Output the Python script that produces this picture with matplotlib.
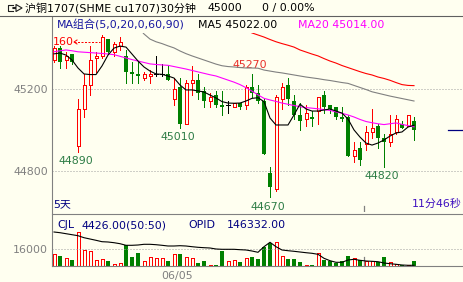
import numpy as np
import matplotlib
matplotlib.use('Agg')
import matplotlib.pyplot as plt
from matplotlib.patches import Rectangle
from matplotlib.lines import Line2D

plt.rcParams['font.family'] = ['DejaVu Sans', 'Noto Sans CJK SC']

# ---------------- data ----------------
title = '沪铜1707(SHME cu1707)30分钟'
last_price_text = '45000'
change_text = '0 / 0.00%'
ma_header = 'MA组合(5,0,20,0,60,90)'
ma5_text = 'MA5 45022.00'
ma20_text = 'MA20 45014.00'
vol_header = ['CJL', '4426.00(50:50)', 'OPID', '146332.00']
period_text = '5天'
timer_text = '11分46秒'
date_labels = ['06/05']
date_label_pos = [20.5]
day_break_pos = [51.67]
price_ticks = [45200, 44800]
vol_ticks = [16000]
last_price = 45000

opens  = [45340, 45400, 45340, 45370, 44920, 45100, 45220, 45350, 45360, 45440,
          45380, 45410, 45360, 45280, 45270, 45250, 45260, 45270, 45270, 45270,
          45150, 45210, 45030, 45230, 45240, 45190, 45140, 45170, 45120, 45120,
          45110, 45130, 45120, 45210, 45180, 45140, 44790, 44710, 45150, 45220,
          45140, 45070, 45050, 45060, 45090, 45170, 45120, 45110, 45060, 45060,
          44870, 44910, 44930, 44990, 45020, 44960, 44940, 44990, 45030, 45020,
          45040]
highs  = [45410, 45410, 45380, 45370, 45150, 45270, 45410, 45380, 45460, 45440,
          45430, 45450, 45390, 45330, 45330, 45280, 45290, 45360, 45320, 45310,
          45250, 45250, 45240, 45310, 45270, 45210, 45180, 45190, 45190, 45140,
          45130, 45130, 45220, 45270, 45220, 45150, 44820, 45170, 45230, 45250,
          45170, 45130, 45120, 45090, 45160, 45190, 45120, 45110, 45110, 45070,
          44940, 44940, 45020, 45100, 45030, 44980, 45070, 45070, 45040, 45070,
          45060]
lows   = [45330, 45300, 45300, 45320, 44890, 45060, 45170, 45280, 45350, 45370,
          45360, 45390, 45230, 45230, 45230, 45240, 45230, 45260, 45260, 45240,
          45120, 45010, 45030, 45170, 45150, 45110, 45110, 45110, 45070, 45080,
          45110, 45100, 45100, 45160, 45130, 44880, 44670, 44700, 45100, 45120,
          45050, 45000, 45020, 45020, 45030, 45080, 45080, 45050, 45040, 44870,
          44840, 44830, 44900, 44960, 44910, 44820, 44920, 44980, 45010, 45020,
          44950]
closes = [45400, 45330, 45360, 45330, 45100, 45220, 45340, 45360, 45450, 45380,
          45420, 45430, 45280, 45270, 45260, 45270, 45270, 45270, 45270, 45240,
          45200, 45030, 45230, 45240, 45180, 45140, 45160, 45120, 45110, 45120,
          45130, 45110, 45210, 45180, 45140, 44880, 44720, 45160, 45210, 45150,
          45070, 45040, 45080, 45050, 45160, 45110, 45100, 45060, 45050, 44870,
          44900, 44850, 44990, 45010, 44960, 44940, 44980, 45050, 45010, 45070,
          45000]

ma5  = [45370, 45374, 45364, 45340, 45301, 45272, 45269, 45269, 45311, 45364,
        45398, 45408, 45403, 45369, 45335, 45306, 45286, 45272, 45270, 45262,
        45252, 45218, 45194, 45194, 45189, 45184, 45169, 45155, 45137, 45130,
        45129, 45130, 45140, 45153, 45156, 45137, 45057, 45023, 45023, 45023,
        45072, 45125, 45101, 45091, 45091, 45096, 45101, 45091, 45081, 45052,
        44999, 44964, 44935, 44925, 44935, 44950, 44969, 44984, 44989, 45013,
        45022]
ma20 = [45380, 45385, 45389, 45385, 45380, 45378, 45376, 45374, 45372, 45369,
        45366, 45358, 45350, 45342, 45335, 45328, 45321, 45318, 45316, 45314,
        45308, 45302, 45296, 45289, 45282, 45275, 45268, 45262, 45252, 45242,
        45232, 45220, 45205, 45188, 45170, 45153, 45145, 45138, 45130, 45124,
        45118, 45112, 45108, 45105, 45102, 45098, 45094, 45087, 45080, 45072,
        45062, 45050, 45040, 45034, 45029, 45025, 45029, 45033, 45026, 45020,
        45014]
ma60 = [None] * 12 + [
        45560, 45535, 45501, 45467, 45442, 45429, 45420, 45409,
        45399, 45384, 45371, 45360, 45350, 45340, 45330, 45320, 45312, 45308,
        45306, 45303, 45301, 45301, 45300, 45291, 45286, 45281, 45277, 45272,
        45267, 45262, 45257, 45253, 45249, 45244, 45240, 45235, 45230, 45226,
        45216, 45206, 45196, 45185, 45178, 45171, 45164, 45158, 45152, 45146,
        45140]
ma90 = [None] * 32 + [
        45486, 45472, 45462, 45452, 45440, 45429, 45420, 45412,
        45403, 45389, 45379, 45369, 45360, 45347, 45335, 45325, 45313, 45303,
        45293, 45283, 45274, 45267, 45257, 45250, 45241, 45230, 45220, 45216,
        45215]

volume = [11500, 9580, 7350, 5750, 32260, 15330, 14370, 5750, 6390, 4790,
          1920, 3190, 19800, 8620, 12450, 4790, 8300, 7350, 7350, 4790,
          11500, 11500, 8300, 7350, 3190, 4790, 960, 960, 14700, 4790,
          5750, 3830, 7350, 8620, 6700, 18530, 22360, 23000, 9580, 6700,
          6700, 3830, 960, 960, 12140, 5750, 4790, 3190, 4790, 9580,
          7980, 5750, 4790, 4790, 3830, 8620, 3830, 1600, 640, 960,
          4426]
opid = [172972, 172412, 171612, 170812, 170012, 168412, 167372, 166332, 165212, 164972,
        164412, 163612, 162332, 162332, 162572, 163132, 163132, 162812, 162332, 161772,
        161772, 162012, 161772, 161212, 160732, 160412, 160172, 159372, 159132, 159132,
        159132, 158812, 158572, 157772, 156732, 161212, 164732, 161212, 158572, 158012,
        157532, 156972, 156412, 155932, 155132, 151932, 150012, 148732, 148732, 150572,
        151132, 150332, 149772, 149532, 149212, 148172, 147612, 147132, 146572, 146332,
        146332]

extreme_lows = [(4, 44890), (21, 45010), (36, 44670), (55, 44820)]
extreme_high = (33, 45270)
top_label_text = '160'

# ---------------- style ----------------
BG = '#FFFFF0'
RED = '#FF0000'
GREEN = '#008000'
GRAY = '#808080'
NAVY = '#000080'
FS = 7.9

W, H = 463, 282
fig = plt.figure(figsize=(W / 100, H / 100), dpi=100)
fig.patch.set_facecolor(BG)


def fx(px):
    return px / W


def fy(py):
    return 1 - py / H


def price_at(py):
    return 45200 - (py - 88.7) * 400 / 82


n = len(closes)
idx = np.arange(n)
X0, DX = 54, 6
xlim = ((52 - X0) / DX, (463 - X0) / DX)

MAIN_TOP, MAIN_BOT = 33, 212
VOL_TOP, VOL_BOT = 216, 266

ax = fig.add_axes([fx(52), fy(MAIN_BOT), fx(463 - 52), (MAIN_BOT - MAIN_TOP) / H])
ax.set_facecolor(BG)
ax.set_xlim(*xlim)
ax.set_ylim(price_at(MAIN_BOT), price_at(MAIN_TOP))
for s in ax.spines.values():
    s.set_visible(False)
ax.set_xticks([])
ax.set_yticks(price_ticks)
ax.set_yticklabels([str(t) for t in price_ticks], color=GRAY, fontsize=FS)
ax.tick_params(axis='y', length=0, pad=2.9)
ax.grid(axis='y', color='#A0A0A0', linestyle=(0, (1, 2)), linewidth=0.72)

body_w = 4 / DX
hollow_w = 3 / DX
LW = 0.72
for i in range(n):
    o, h, l, c = opens[i], highs[i], lows[i], closes[i]
    if c > o:
        ax.add_line(Line2D([i, i], [l, o], color=RED, lw=LW, antialiased=False))
        ax.add_line(Line2D([i, i], [c, h], color=RED, lw=LW, antialiased=False))
        ax.add_patch(Rectangle((i - hollow_w / 2, o), hollow_w, c - o, facecolor=BG,
                               edgecolor=RED, lw=LW, antialiased=False, zorder=3))
    elif c < o:
        ax.add_line(Line2D([i, i], [l, h], color=GREEN, lw=LW, antialiased=False))
        ax.add_patch(Rectangle((i - body_w / 2, c), body_w, o - c, facecolor=GREEN,
                               edgecolor='none', antialiased=False, zorder=3))
    else:
        ax.add_line(Line2D([i, i], [l, h], color='black', lw=LW, antialiased=False))
        ax.add_line(Line2D([i - body_w / 2, i + body_w / 2], [o, o], color='black',
                           lw=LW, antialiased=False))


def ma_line(vals, color):
    y = np.array([np.nan if v is None else v for v in vals], dtype=float)
    ax.plot(idx, y, color=color, lw=0.8, zorder=4)


ma_line(ma90, '#FF0000')
ma_line(ma60, '#808080')
ma_line(ma20, '#FF00FF')
ma_line(ma5, '#000000')

# current price marker at right
ax.plot([(448 - X0) / DX, xlim[1]], [last_price, last_price], color=NAVY, lw=0.9)

# extreme labels
LOWC = '#2E7D46'
for i, v in extreme_lows:
    ax.annotate(str(v), (i, v), xytext=(-1.4, -6.6), textcoords='offset points',
                ha='center', va='center', fontsize=FS, color=LOWC)
i, v = extreme_high
ax.annotate(str(v), (i, v), xytext=(-1.4, 6.7), textcoords='offset points',
            ha='center', va='center', fontsize=FS, color='#E8302A')

# top-left high label with arrow
fig.text(fx(53), fy(42), top_label_text, color=RED, fontsize=FS, va='center', ha='left')
fig.add_artist(Line2D([fx(74), fx(100)], [fy(42), fy(42)], color=RED, lw=0.72,
                      linestyle=(0, (2, 1.5))))
fig.add_artist(Line2D([fx(77), fx(74), fx(77)], [fy(40), fy(42), fy(44)],
                      color=RED, lw=0.72))

# day break ticks
for p in day_break_pos:
    ax.axvline(p, ymin=0, ymax=6 / (MAIN_BOT - MAIN_TOP), color=GRAY, lw=0.9)

# ---------------- volume panel ----------------
vax = fig.add_axes([fx(52), fy(VOL_BOT), fx(463 - 52), (VOL_BOT - VOL_TOP) / H])
vax.set_facecolor(BG)
vax.set_xlim(*xlim)
vpx = 16000 / (VOL_BOT - 249.3)
vax.set_ylim(0, vpx * (VOL_BOT - VOL_TOP))
for s in vax.spines.values():
    s.set_visible(False)
vax.set_yticks(vol_ticks)
vax.set_yticklabels([str(t) for t in vol_ticks], color=GRAY, fontsize=FS)
vax.tick_params(axis='y', length=0, pad=2.9)
vax.grid(axis='y', color='#A0A0A0', linestyle=(0, (1, 2)), linewidth=0.72)
vax.set_xticks(date_label_pos)
vax.set_xticklabels(date_labels, color=GRAY, fontsize=FS)
vax.tick_params(axis='x', length=0, pad=3.5)
for i in range(n):
    if closes[i] >= opens[i]:
        vax.add_patch(Rectangle((i - hollow_w / 2, 0), hollow_w, volume[i], facecolor=BG,
                                edgecolor=RED, lw=LW, antialiased=False))
    else:
        vax.add_patch(Rectangle((i - body_w / 2, 0), body_w, volume[i], facecolor=GREEN,
                                edgecolor='none', antialiased=False))
for p in day_break_pos:
    vax.axvline(p, ymin=0, ymax=9 / (VOL_BOT - VOL_TOP), color=GRAY, lw=0.9)

oax = vax.twinx()
oax.set_xlim(*xlim)
op_lo = 146332 - 0.7 * 800
oax.set_ylim(op_lo, op_lo + 800 * (VOL_BOT - VOL_TOP))
oax.plot(idx, opid, color='black', lw=0.8)
oax.axis('off')

# ---------------- frame lines ----------------
fig.add_artist(Line2D([fx(52), fx(52)], [fy(17), fy(VOL_BOT)], color=GRAY, lw=0.8))
fig.add_artist(Line2D([fx(52), 1], [fy(MAIN_BOT + 1.5), fy(MAIN_BOT + 1.5)], color=GRAY, lw=0.8))
fig.add_artist(Line2D([fx(52), 1], [fy(VOL_BOT), fy(VOL_BOT)], color=GRAY, lw=0.8))
fig.add_artist(Line2D([0, 1], [fy(16), fy(16)], color='#606060', lw=0.8))

# ---------------- header texts ----------------
fig.add_artist(Line2D([fx(13), fx(8), fx(8), fx(13)], [fy(5), fy(5), fy(11), fy(11)],
                      color='#202020', lw=0.8))
fig.add_artist(Line2D([fx(13), fx(16), fx(16), fx(22), fx(16), fx(16), fx(13)],
                      [fy(7.5), fy(7.5), fy(4.5), fy(8), fy(11.5), fy(8.5), fy(8.5)],
                      color='#202020', lw=0.8))
fig.text(fx(25), fy(8), title, fontsize=FS, va='center', ha='left', color='black')
fig.text(fx(208), fy(8), last_price_text, fontsize=FS, va='center', ha='left', color='black')
fig.text(fx(262), fy(8), change_text, fontsize=FS, va='center', ha='left', color='black')

fig.text(fx(57), fy(25), ma_header, fontsize=FS, va='center', ha='left', color='#1818A0')
fig.text(fx(198), fy(25), ma5_text, fontsize=FS, va='center', ha='left', color='black')
fig.text(fx(298), fy(25), ma20_text, fontsize=FS, va='center', ha='left', color='#FF00FF')

fig.text(fx(53), fy(204), period_text, fontsize=FS, va='center', ha='left', color=NAVY)
fig.text(fx(462), fy(204), timer_text, fontsize=FS, va='center', ha='right', color='#4010C0')

vx = [57, 82, 188, 227]
for t, x in zip(vol_header, vx):
    fig.text(fx(x), fy(225), t, fontsize=FS, va='center', ha='left', color=NAVY)

fig.savefig('out.png', dpi=100, facecolor=BG)
